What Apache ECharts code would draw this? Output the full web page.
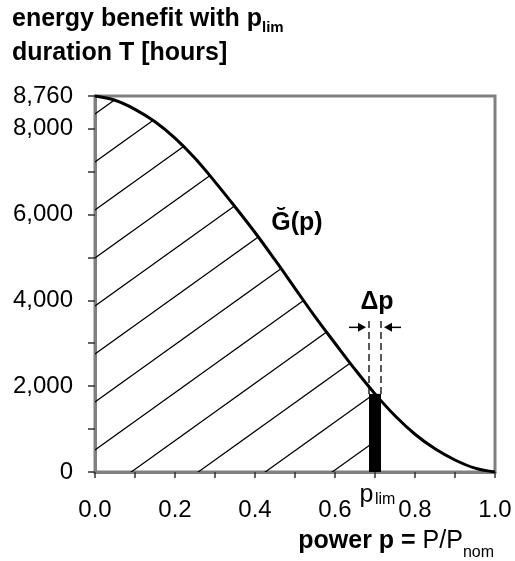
<!DOCTYPE html>
<html>
<head>
<meta charset="utf-8">
<script src="https://cdn.jsdelivr.net/npm/echarts@6/dist/echarts.min.js"></script>
<style>
  html, body { margin: 0; padding: 0; background: #fff; }
  #chart { width: 515px; height: 561px; }
</style>
</head>
<body>
<div id="chart"></div>
<script>
// Normalised power p = P / P_nom
const powerP = [0, 0.05, 0.1, 0.15, 0.2, 0.25, 0.3, 0.35, 0.4, 0.45, 0.5,
                0.55, 0.6, 0.65, 0.7, 0.75, 0.8, 0.85, 0.9, 0.95, 1.0];
// Duration (hours per year) for which the power exceeds p
const durationG = [8760, 8660, 8450, 8160, 7780, 7310, 6760, 6180, 5580, 4940, 4280,
                   3620, 3000, 2390, 1820, 1310, 880, 540, 280, 90, 0];
const xTickLabels = [0, 0.2, 0.4, 0.6, 0.8, 1.0];
const yTickLabels = [0, 2000, 4000, 6000, 8000, 8760];

// Power limit and the strip width around it
const pLim = 0.7;
const deltaP = 0.03;
const gLim = durationG[powerP.indexOf(pLim)];

// Annotation anchors in data units
const DASH_TOP = 3600;
const ARROW_Y = 3370;
const DP_LABEL_Y = 3950;
const CURVE_LABEL = [0.505, 5790];

const FONT = '"Liberation Sans", Arial, Helvetica, sans-serif';
const Y_MAX = 8760;

// Hatching used below the curve up to p_lim
function hatchTile() {
  const W = 67, H = 48, c = 38;
  const cv = document.createElement('canvas');
  cv.width = W; cv.height = H;
  const g = cv.getContext('2d');
  g.strokeStyle = '#000';
  g.lineWidth = 1.3;
  for (let n = -2; n <= 3; n++) {
    g.beginPath();
    g.moveTo(-W, c + n * H + H);
    g.lineTo(2 * W, c + n * H - 2 * H);
    g.stroke();
  }
  return cv;
}

const mctx = document.createElement('canvas').getContext('2d');
function textW(str, font) { mctx.font = font; return mctx.measureText(str).width; }
// centre line for a given alphabetic baseline
const mid = (baseline, fs) => baseline - 0.3465 * fs;

function txt(x, y, text, fs, weight, align) {
  return {
    type: 'text', x: x, y: y, silent: true,
    style: {
      text: text, fill: '#000',
      font: weight + ' ' + fs + 'px ' + FONT,
      align: align || 'left', verticalAlign: 'middle',
      textAlign: align || 'left', textVerticalAlign: 'middle'
    }
  };
}

const curve = powerP.map((p, i) => [p, durationG[i]]);
const hatched = curve.filter(d => d[0] <= pLim);

// Title and axis name
const t1 = 'energy benefit with p';
const t1w = textW(t1, 'bold 25px ' + FONT);
const nameBold = 'power p = ';
const nameReg = 'P/P';
const nameSub = 'nom';
const wB = textW(nameBold, 'bold 25px ' + FONT);
const wR = textW(nameReg, '25px ' + FONT);
const wS = textW(nameSub, '16px ' + FONT);
const nameX = 494 - (wB + wR + wS);

const chart = echarts.init(document.getElementById('chart'), null, { renderer: 'canvas' });

chart.setOption({
  animation: false,
  backgroundColor: '#fff',
  grid: {
    left: 95, right: 20, top: 96, bottom: 89,
    show: true, borderColor: '#808080', borderWidth: 3,
    containLabel: false, outerBoundsMode: 'none'
  },
  xAxis: {
    type: 'value', min: 0, max: 1, interval: 0.1,
    axisLine: { show: true, lineStyle: { color: '#808080', width: 3 } },
    axisTick: { show: true, length: 6, lineStyle: { color: '#333', width: 1.5 } },
    splitLine: { show: false },
    axisLabel: {
      fontSize: 24, fontFamily: FONT, color: '#000', margin: 26,
      formatter: v => xTickLabels.some(t => Math.abs(t - v) < 1e-6) ? v.toFixed(1) : ''
    }
  },
  yAxis: {
    type: 'value', min: 0, max: Y_MAX, interval: 1000,
    axisLine: { show: true, lineStyle: { color: '#808080', width: 3 } },
    axisTick: { show: true, length: 7, lineStyle: { color: '#333', width: 1.5 } },
    splitLine: { show: false },
    axisLabel: {
      fontSize: 24, fontFamily: FONT, color: '#000', margin: 22,
      showMaxLabel: true, showMinLabel: true,
      formatter: v => yTickLabels.includes(v) ? v.toLocaleString('en-US') : ''
    }
  },
  series: [
    {
      type: 'line', data: hatched, smooth: 0.4,
      symbol: 'none', silent: true, z: 2,
      lineStyle: { width: 0 },
      areaStyle: { color: { image: hatchTile(), repeat: 'repeat' }, opacity: 1 }
    },
    {
      type: 'custom', coordinateSystem: 'cartesian2d',
      data: [[pLim, gLim]], clip: false, silent: true, z: 4,
      renderItem: (params, api) => {
        const p = api.value(0), g = api.value(1);
        const lo = api.coord([p - deltaP / 2, 0]);
        const hi = api.coord([p + deltaP / 2, g]);
        const xL = lo[0], xR = hi[0], yBase = lo[1], yTop = hi[1];
        const yDash = api.coord([p, DASH_TOP])[1];
        const yArr = api.coord([p, ARROW_Y])[1];
        const yLab = api.coord([p, DP_LABEL_Y])[1];
        const xMid = api.coord([p, 0])[0];
        const cl = api.coord(CURVE_LABEL);
        const head = 8, half = 4.5, tail = 9, gap = 3;
        const dash = { stroke: '#000', lineWidth: 1.3, lineDash: [7, 4] };
        const solid = { stroke: '#000', lineWidth: 1.5 };
        return {
          type: 'group',
          children: [
            { type: 'rect', shape: { x: xL, y: yTop, width: xR - xL, height: yBase - yTop }, style: { fill: '#000' } },
            { type: 'line', shape: { x1: xL, y1: yTop, x2: xL, y2: yDash }, style: dash },
            { type: 'line', shape: { x1: xR, y1: yTop, x2: xR, y2: yDash }, style: dash },
            { type: 'line', shape: { x1: xL - gap - head - tail, y1: yArr, x2: xL - gap - head + 1, y2: yArr }, style: solid },
            { type: 'polygon', shape: { points: [[xL - gap, yArr], [xL - gap - head, yArr - half], [xL - gap - head, yArr + half]] }, style: { fill: '#000' } },
            { type: 'line', shape: { x1: xR + gap + head + tail, y1: yArr, x2: xR + gap + head - 1, y2: yArr }, style: solid },
            { type: 'polygon', shape: { points: [[xR + gap, yArr], [xR + gap + head, yArr - half], [xR + gap + head, yArr + half]] }, style: { fill: '#000' } },
            txt(xMid + 2, yLab, 'Δp', 25, 'bold', 'center'),
            txt(cl[0], cl[1], 'Ğ(p)', 25, 'bold', 'center'),
            txt(xMid - 1.5, mid(yBase + 32, 25), 'p', 25, 'normal', 'right'),
            txt(xMid, mid(yBase + 33, 16), 'lim', 16, 'normal', 'left')
          ]
        };
      }
    },
    {
      type: 'line', data: curve, smooth: 0.4,
      symbol: 'none', silent: true, z: 5,
      lineStyle: { color: '#000', width: 3 }
    }
  ],
  graphic: [
    txt(12, mid(28, 25), t1, 25, 'bold', 'left'),
    txt(12 + t1w, mid(33, 15), 'lim', 15, 'bold', 'left'),
    txt(12, mid(62, 25), 'duration T [hours]', 25, 'bold', 'left'),
    txt(nameX, mid(550, 25), nameBold, 25, 'bold', 'left'),
    txt(nameX + wB, mid(550, 25), nameReg, 25, 'normal', 'left'),
    txt(nameX + wB + wR, mid(558, 16), nameSub, 16, 'normal', 'left')
  ]
});
</script>
</body>
</html>
